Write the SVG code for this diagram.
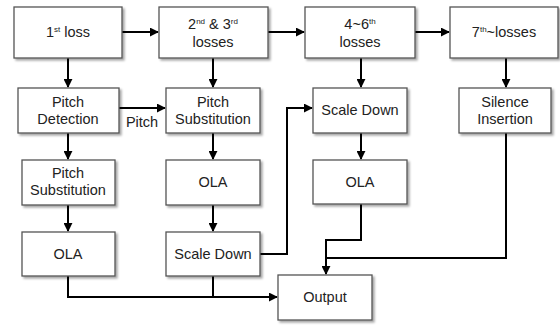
<svg xmlns="http://www.w3.org/2000/svg" width="560" height="327" viewBox="0 0 560 327">
<defs>
<filter id="sh" x="-10%" y="-10%" width="130%" height="140%">
<feDropShadow dx="2" dy="2" stdDeviation="1.2" flood-color="#000" flood-opacity="0.35"/>
</filter>
<marker id="ah" viewBox="0 0 10 10" refX="9" refY="5" markerWidth="4.5" markerHeight="4.5" orient="auto" markerUnits="strokeWidth">
<path d="M0,0 L10,5 L0,10 z" fill="#000"/>
</marker>
</defs>
<style>
.b{fill:#fff;stroke:#555;stroke-width:1.3;filter:url(#sh)}
.t{font-family:"Liberation Sans",Arial,sans-serif;font-size:14.5px;fill:#222;text-anchor:middle}
.s{font-size:8px}
.c{fill:none;stroke:#000;stroke-width:2}
.a{marker-end:url(#ah)}
</style>
<rect width="560" height="327" fill="#fff"/>
<g id="connectors">
<path class="c a" d="M122,32 H158"/>
<path class="c a" d="M268,32 H304"/>
<path class="c a" d="M415,32 H449"/>
<path class="c a" d="M68,58 V87"/>
<path class="c a" d="M213,58 V87"/>
<path class="c a" d="M361,58 V87"/>
<path class="c a" d="M506,58 V87"/>
<path class="c a" d="M119,108 H165"/>
<path class="c a" d="M68,133 V159"/>
<path class="c a" d="M213,133 V159"/>
<path class="c a" d="M361,133 V159"/>
<path class="c a" d="M68,205 V231"/>
<path class="c a" d="M213,205 V231"/>
<path class="c a" d="M260,254 H287 V108 H312"/>
<path class="c a" d="M68,276 V297 H277"/>
<path class="c" d="M213,276 V297"/>
<path class="c a" d="M361,204 V240 H326 V274"/>
<path class="c" d="M506,133 V258 H326"/>
<text class="t" x="142" y="127">Pitch</text>
</g>
<g id="n1"><rect class="b" x="14" y="7" width="108" height="51"/><text class="t" x="68" y="37">1<tspan class="s" dy="-5">st</tspan><tspan dy="5"> loss</tspan></text></g>
<g id="n2"><rect class="b" x="159" y="7" width="109" height="51"/><text class="t" x="213" y="29">2<tspan class="s" dy="-5">nd</tspan><tspan dy="5"> &amp; 3</tspan><tspan class="s" dy="-5">rd</tspan></text><text class="t" x="213" y="47">losses</text></g>
<g id="n3"><rect class="b" x="305" y="7" width="110" height="51"/><text class="t" x="360" y="29">4~6<tspan class="s" dy="-5">th</tspan></text><text class="t" x="360" y="47">losses</text></g>
<g id="n4"><rect class="b" x="450" y="7" width="108" height="51"/><text class="t" x="504" y="37">7<tspan class="s" dy="-5">th</tspan><tspan dy="5">~losses</tspan></text></g>
<g id="n5"><rect class="b" x="18" y="88" width="101" height="45"/><text class="t" x="68" y="107">Pitch</text><text class="t" x="68" y="124">Detection</text></g>
<g id="n6"><rect class="b" x="166" y="88" width="94" height="45"/><text class="t" x="213" y="107">Pitch</text><text class="t" x="213" y="124">Substitution</text></g>
<g id="n7"><rect class="b" x="313" y="88" width="94" height="45"/><text class="t" x="360" y="115">Scale Down</text></g>
<g id="n8"><rect class="b" x="459" y="88" width="92" height="45"/><text class="t" x="505" y="107">Silence</text><text class="t" x="505" y="124">Insertion</text></g>
<g id="n9"><rect class="b" x="22" y="160" width="93" height="45"/><text class="t" x="68" y="178">Pitch</text><text class="t" x="68" y="195">Substitution</text></g>
<g id="n10"><rect class="b" x="166" y="160" width="94" height="45"/><text class="t" x="213" y="187">OLA</text></g>
<g id="n11"><rect class="b" x="313" y="160" width="94" height="44"/><text class="t" x="360" y="187">OLA</text></g>
<g id="n12"><rect class="b" x="22" y="232" width="93" height="44"/><text class="t" x="68" y="259">OLA</text></g>
<g id="n13"><rect class="b" x="166" y="232" width="94" height="44"/><text class="t" x="213" y="259">Scale Down</text></g>
<g id="n14"><rect class="b" x="278" y="275" width="94" height="45"/><text class="t" x="325" y="302">Output</text></g>
</svg>
